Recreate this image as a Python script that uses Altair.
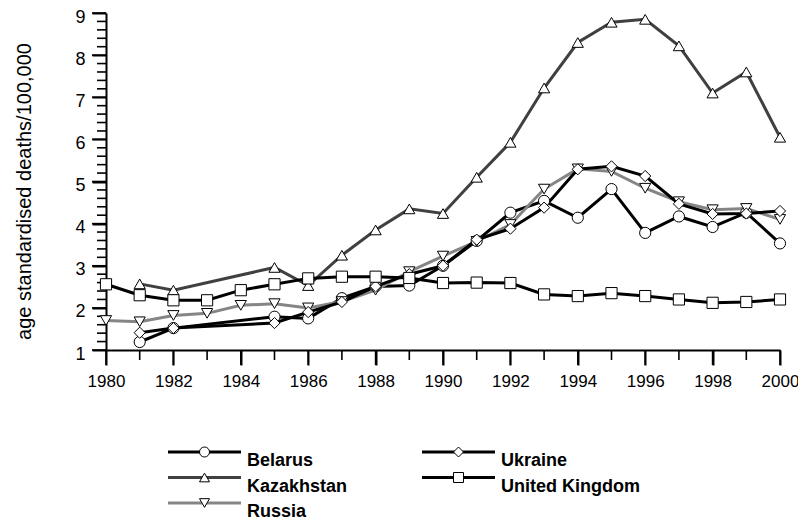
import altair as alt
import pandas as pd

years = list(range(1980, 2001))
series = ["Belarus", "Kazakhstan", "Russia", "Ukraine", "United Kingdom"]
N = None
belarus = [N, 1.19, 1.52, N, N, 1.79, 1.75, 2.23, 2.51, 2.53, 3.00, 3.59, 4.26,
           4.54, 4.14, 4.82, 3.78, 4.17, 3.92, 4.26, 3.53]
kazakhstan = [N, 2.57, 2.42, N, N, 2.96, 2.53, 3.25, 3.85, 4.35, 4.24, 5.10, 5.93,
              7.22, 8.30, 8.78, 8.85, 8.22, 7.10, 7.60, 6.05]
russia = [1.70, 1.67, 1.82, 1.87, 2.06, 2.10, 2.00, 2.15, 2.42, 2.86, 3.23, 3.58,
          3.98, 4.82, 5.30, 5.24, 4.84, 4.52, 4.33, 4.36, 4.10]
ukraine = [N, 1.41, 1.52, N, N, 1.64, 1.90, 2.14, 2.51, 2.80, 3.00, 3.62, 3.88,
           4.38, 5.29, 5.36, 5.13, 4.47, 4.23, 4.24, 4.30]
uk = [2.56, 2.30, 2.18, 2.18, 2.42, 2.56, 2.70, 2.74, 2.74, 2.71, 2.59, 2.60, 2.59,
      2.32, 2.28, 2.35, 2.28, 2.20, 2.12, 2.14, 2.20]
x_major = list(range(1980, 2001, 2))
x_minor = [y for y in years if y % 2 == 1]
y_major = list(range(1, 10))
y_minor = [round(1 + 0.2 * i, 1) for i in range(41) if i % 5 != 0]
y_title = "age standardised deaths/100,000"

# styles
colors = ["#000000", "#404040", "#858585", "#000000", "#000000"]
shapes = ["circle", "triangle-up", "triangle-down", "diamond", "square"]
FONT = "Liberation Sans"
W, H = 674, 337

rows = []
for name, vals in zip(series, [belarus, kazakhstan, russia, ukraine, uk]):
    for yr, v in zip(years, vals):
        if v is not None:
            rows.append({"series": name, "year": yr, "value": v})
df = pd.DataFrame(rows)

color_scale = alt.Scale(domain=series, range=colors)
shape_scale = alt.Scale(domain=series, range=shapes)
xs = alt.Scale(domain=[1980, 2000], nice=False, zero=False)
ys = alt.Scale(domain=[1, 9], nice=False, zero=False)

common = dict(domainColor="black", domainWidth=2, labelFont=FONT, labelColor="black",
              labelOverlap=False, labelFlush=False, labelBound=False,
              ticks=True, tickColor="#000000", tickWidth=2, tickOpacity=1, grid=False)

x_axis = alt.Axis(title=None, orient="bottom", values=x_major, format="d",
                  tickSize=15, labelPadding=8, labelFontSize=17, **common)
y_axis = alt.Axis(
    title=y_title, orient="left", values=y_major, format="d", tickSize=14,
    labelPadding=7, labelOffset=4, labelFontSize=18,
    titleFont=FONT, titleFontSize=20, titleFontWeight="normal", titleColor="black",
    titleX=-82, titleY=178, titleAngle=-90, titleBaseline="middle",
    **common)

lines = alt.Chart(df).mark_line(strokeWidth=3).encode(
    x=alt.X("year:Q", scale=xs, axis=x_axis),
    y=alt.Y("value:Q", scale=ys, axis=y_axis),
    color=alt.Color("series:N", scale=color_scale, legend=None),
    detail="series:N",
)
points = alt.Chart(df).mark_point(
    filled=True, fill="white", stroke="black", strokeWidth=1, size=125, opacity=1
).encode(
    x=alt.X("year:Q", scale=xs, axis=None),
    y=alt.Y("value:Q", scale=ys, axis=None),
    shape=alt.Shape("series:N", scale=shape_scale, legend=None),
    order=alt.Order("idx:Q"),
).transform_calculate(
    idx="indexof(" + str(series).replace("'", '"') + ", datum.series)"
)


def xticks(vals, length):
    return alt.Chart(pd.DataFrame({"year": vals})).mark_tick(
        color="#000000", size=length, thickness=1.6, opacity=1, orient="vertical"
    ).encode(
        x=alt.X("year:Q", scale=xs, axis=None),
        y=alt.value(H + length / 2),
    )


def yticks(vals, length):
    return alt.Chart(pd.DataFrame({"value": vals})).mark_tick(
        color="#000000", size=length, thickness=1.6, opacity=1, orient="horizontal"
    ).encode(
        y=alt.Y("value:Q", scale=ys, axis=None),
        x=alt.value(-length / 2),
    )


main = alt.layer(
    xticks(x_major, 15), xticks(x_minor, 10), yticks(y_major, 14), yticks(y_minor, 9),
    lines, points,
).resolve_axis(x="independent", y="independent")

legend_df = pd.DataFrame({"series": series, "idx": list(range(len(series)))})
lx = alt.Scale(domain=[0, W], nice=False, zero=False)
ly = alt.Scale(domain=[0, 2], range=[439, 490], nice=False, zero=False)
base_leg = alt.Chart(legend_df).transform_calculate(
    col="floor(datum.idx / 3)",
    row="datum.idx % 3",
).transform_calculate(
    x0="62 + datum.col * 254",
).transform_calculate(
    x1="datum.x0 + 73",
    xm="datum.x0 + 36.5",
    xt="datum.x0 + 79",
)
leg_rule = base_leg.mark_rule(strokeWidth=3).encode(
    x=alt.X("x0:Q", scale=lx, axis=None),
    x2="x1:Q",
    y=alt.Y("row:Q", scale=ly, axis=None),
    color=alt.Color("series:N", scale=color_scale, legend=None),
)
leg_pt = base_leg.mark_point(
    filled=True, fill="white", stroke="black", strokeWidth=1, size=100, opacity=1
).encode(
    x=alt.X("xm:Q", scale=lx, axis=None),
    y=alt.Y("row:Q", scale=ly, axis=None),
    shape=alt.Shape("series:N", scale=shape_scale, legend=None),
)
leg_txt = base_leg.mark_text(
    align="left", baseline="middle", dy=9, font=FONT, fontSize=18,
    fontWeight="bold", color="black"
).encode(
    x=alt.X("xt:Q", scale=lx, axis=None),
    y=alt.Y("row:Q", scale=ly, axis=None),
    text="series:N",
)
legend = alt.layer(leg_rule, leg_pt, leg_txt)

chart = alt.layer(main, legend).resolve_scale(
    x="independent", y="independent"
).properties(
    width=W,
    height=H,
    autosize=alt.AutoSizeParams(type="none"),
    padding={"left": 98, "top": 5, "right": 18, "bottom": 170},
    background="white",
).configure_view(stroke=None)

chart.save("out.html", embed_options={"renderer": "svg", "actions": False})
